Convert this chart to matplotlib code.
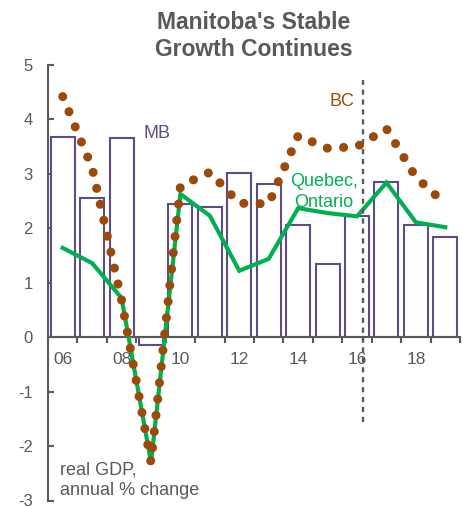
import matplotlib
matplotlib.use("Agg")
import matplotlib.pyplot as plt
import numpy as np

plt.rcParams["font.family"] = ["Liberation Sans", "DejaVu Sans"]
plt.rcParams["axes.unicode_minus"] = False

# Data (real GDP, annual % change)
years = ["06", "07", "08", "09", "10", "11", "12", "13", "14", "15", "16", "17", "18", "19"]
mb = [3.68, 2.55, 3.66, -0.15, 2.45, 2.40, 3.01, 2.82, 2.06, 1.35, 2.23, 2.85, 2.06, 1.84]
quebec_ontario = [1.64, 1.36, 0.72, -2.30, 2.63, 2.23, 1.22, 1.44, 2.37, 2.28, 2.22, 2.84, 2.11, 2.02]
bc = [4.42, 3.11, 0.68, -2.30, 2.78, 3.03, 2.46, 2.45, 3.70, 3.47, 3.50, 3.83, 2.94, 2.45]
forecast_start = 10.2  # dashed line, just after 2016

gray = "#595959"
purple = "#5F4B85"
green = "#00B050"
brown = "#9C4A0A"

fig = plt.figure(figsize=(4.64, 5.07), dpi=100)
ax = fig.add_axes([48 / 464, 1 - 500.5 / 507, 412 / 464, 435.5 / 507])

x = np.arange(len(years))

# MB bars (outlined)
ax.bar(x, mb, width=0.82, facecolor="white", edgecolor=purple, linewidth=1.5, zorder=2)

# Quebec, Ontario line
ax.plot(x, quebec_ontario, color=green, linewidth=3, solid_joinstyle="miter", zorder=3)

# BC dotted line
ax.plot(x, bc, color=brown, linewidth=6.5, linestyle=(0, (0.01, 1.8)),
        dash_capstyle="round", zorder=4)

# forecast divider
ax.plot([forecast_start, forecast_start], [-1.55, 4.72], color=gray, linewidth=1.7,
        dashes=(2.2, 2.0), zorder=5, clip_on=False)

ax.set_xlim(-0.5, len(years) - 0.5)
ax.set_ylim(-3, 5)

# spines
for s in ["top", "right"]:
    ax.spines[s].set_visible(False)
ax.spines["left"].set_color(gray)
ax.spines["left"].set_linewidth(1.5)
ax.spines["bottom"].set_color(gray)
ax.spines["bottom"].set_linewidth(1.5)
ax.spines["bottom"].set_position(("data", 0))

# y ticks
ax.set_yticks(range(-3, 6))
ax.tick_params(axis="y", direction="in", length=4.5, width=1.5, color=gray,
               labelcolor=gray, labelsize=12, pad=11)

# x ticks: marks between years, labels every other year
ax.set_xticks(np.arange(0.5, len(years), 1.0))
ax.set_xticklabels([])
ax.set_xticks(x[::2], minor=True)
ax.set_xticklabels(years[::2], minor=True)
ax.tick_params(axis="x", which="major", direction="out", length=4.5, width=1.5, color=gray)
ax.tick_params(axis="x", which="minor", length=0, labelcolor=gray, labelsize=12.5, pad=11)

# series labels
ax.text(3.2, 3.66, "MB", color=purple, fontsize=13, ha="center", va="baseline")
ax.text(9.49, 4.24, "BC", color=brown, fontsize=13, ha="center", va="baseline")
ax.text(8.88, 2.77, "Quebec,", color=green, fontsize=13, ha="center", va="baseline")
ax.text(8.88, 2.39, "Ontario", color=green, fontsize=13, ha="center", va="baseline")

ax.text(-0.09, -2.53, "real GDP,", color=gray, fontsize=13, ha="left", va="baseline")
ax.text(-0.09, -2.90, "annual % change", color=gray, fontsize=13, ha="left", va="baseline")

# title
fig.text(253.5 / 464, 1 - 29.3 / 507, "Manitoba's Stable", color=gray, fontsize=16.5,
         fontweight="bold", ha="center", va="baseline")
fig.text(253.5 / 464, 1 - 56 / 507, "Growth Continues", color=gray, fontsize=16.5,
         fontweight="bold", ha="center", va="baseline")

fig.savefig("out.png", dpi=100)
